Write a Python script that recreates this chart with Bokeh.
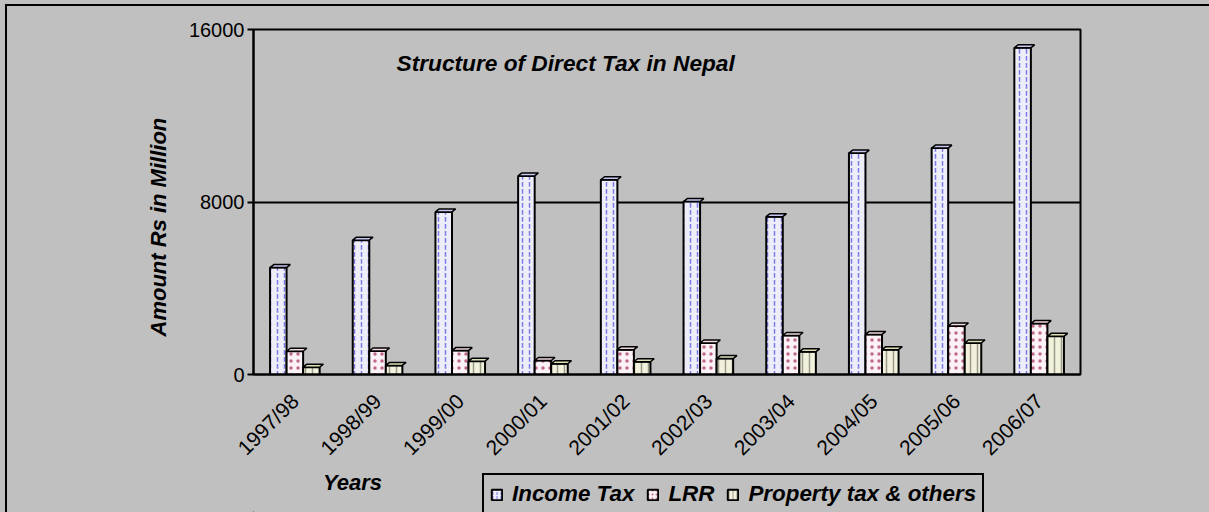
import math
from bokeh.plotting import figure
from bokeh.layouts import column
from bokeh.models import (ColumnDataSource, FactorRange, Range1d, FixedTicker, Legend, LegendItem,
                          Label, Title, InlineStyleSheet)
from bokeh.transform import dodge
from bokeh.embed import file_html
from bokeh.resources import INLINE

years = ["1997/98", "1998/99", "1999/00", "2000/01", "2001/02",
         "2002/03", "2003/04", "2004/05", "2005/06", "2006/07"]
income_tax = [4960, 6230, 7540, 9210, 9030, 8020, 7320, 10270, 10500, 15150]
lrr = [1080, 1090, 1110, 650, 1150, 1460, 1810, 1860, 2250, 2360]
property_tax = [340, 420, 620, 500, 590, 740, 1050, 1150, 1460, 1770]
series_names = ["Income Tax", "LRR", "Property tax & others"]
y_ticks = [0, 8000, 16000]

FONT = "Liberation Sans"
BG = "#C0C0C0"
W = 1209
H_MAIN = 470
H_LEG = 42
LEFT, RIGHT = 253, 129

p = figure(x_range=FactorRange(*years), y_range=Range1d(0, 16000),
           width=W, height=H_MAIN, output_backend="svg", toolbar_location=None,
           min_border_left=LEFT, min_border_right=RIGHT, min_border_top=29, min_border_bottom=95)
p.background_fill_color = BG
p.border_fill_color = BG
p.outline_line_color = "black"
p.outline_line_width = 2

p.xgrid.grid_line_color = None
p.ygrid.grid_line_color = "black"
p.ygrid.grid_line_width = 2
p.ygrid.ticker = FixedTicker(ticks=y_ticks)
p.x_range.range_padding = 0

p.yaxis.ticker = FixedTicker(ticks=y_ticks)
p.yaxis.major_tick_out = 6
p.yaxis.major_tick_in = 0
p.yaxis.minor_tick_line_color = None
p.yaxis.axis_line_width = 2
p.yaxis.major_tick_line_width = 2
p.yaxis.major_label_text_font = FONT
p.yaxis.major_label_text_font_size = "20px"
p.yaxis.major_label_text_color = "black"
p.yaxis.major_label_standoff = 3

p.xaxis.major_tick_line_color = None
p.xaxis.axis_line_width = 2
p.xaxis.major_label_orientation = math.pi / 4
p.xaxis.major_label_text_font = FONT
p.xaxis.major_label_text_font_size = "21px"
p.xaxis.major_label_text_color = "black"
p.xaxis.major_label_standoff = 17

src = ColumnDataSource(dict(years=years, income=income_tax, lrr=lrr, prop=property_tax))

bw = 0.2
styles = [
    dict(col="income", off=-0.2, fill="#EEEEFA", hatch=":", hcol="#7A7AE6", cap="#C8C8F0"),
    dict(col="lrr", off=0.0, fill="#FAF2F6", hatch=".", hcol="#C06888", cap="#F0D8E4"),
    dict(col="prop", off=0.2, fill="#F2F2DC", hatch="|", hcol="#9A9A8A", cap="#E0E0B8"),
]
px_per_unit = 345.0 / 16000.0
cap_dy = 3.0 / px_per_unit
cap_dx = 0.045
for s, vals in zip(styles, [income_tax, lrr, property_tax]):
    p.vbar(x=dodge("years", s["off"], range=p.x_range), top=s["col"], width=bw, source=src,
           fill_color=s["fill"], line_color="black", line_width=2,
           hatch_pattern=s["hatch"], hatch_color=s["hcol"], hatch_scale=7, hatch_weight=1.5)
    xs, ys = [], []
    for i, v in enumerate(vals):
        c = i + 0.5 + s["off"]
        xs.append([c - bw / 2, c + bw / 2, c + bw / 2 + cap_dx, c - bw / 2 + cap_dx])
        ys.append([v, v, v + cap_dy, v + cap_dy])
    p.patches(xs=xs, ys=ys, fill_color=s["cap"], line_color="black", line_width=1.5)

title = Label(x=396 - LEFT, y=375 - 63, x_units="screen", y_units="screen",
              text="Structure of Direct Tax in Nepal", text_color="black",
              text_font=FONT, text_font_style="bold italic", text_font_size="22.7px",
              text_baseline="alphabetic", text_align="left")
p.add_layout(title)

ytitle = Title(text="Amount Rs in Million", align="left", offset=38,
               text_font=FONT, text_font_style="bold italic", text_font_size="22px",
               text_color="black", standoff=29)
p.add_layout(ytitle, "left")

# bottom strip: axis title and legend (frame aligned with the main plot)
p2 = figure(width=W, height=H_LEG, x_range=Range1d(0, W - LEFT - RIGHT), y_range=Range1d(0, H_LEG),
            output_backend="svg", toolbar_location=None, x_axis_type=None, y_axis_type=None,
            min_border_left=LEFT, min_border_right=RIGHT, min_border_top=0, min_border_bottom=0)
p2.background_fill_color = BG
p2.border_fill_color = BG
p2.outline_line_color = None
p2.xgrid.grid_line_color = None
p2.ygrid.grid_line_color = None

# zero-height, off-range keys used only for the legend swatches
key_src = ColumnDataSource(dict(x=[-1000], top=[0]))
leg_renderers = []
for s in styles:
    r = p2.vbar(x="x", top="top", width=1, source=key_src,
                fill_color=s["fill"], line_color="black", line_width=2,
                hatch_pattern=s["hatch"], hatch_color=s["hcol"], hatch_scale=4, hatch_weight=1)
    leg_renderers.append(r)

legend = Legend(items=[LegendItem(label=n, renderers=[r]) for n, r in zip(series_names, leg_renderers)],
                orientation="horizontal", location=(482 - LEFT, -3))
legend.label_text_font = FONT
legend.label_text_font_style = "bold italic"
legend.label_text_font_size = "22.4px"
legend.label_text_color = "black"
legend.glyph_width = 13
legend.glyph_height = 13
legend.label_standoff = 9
legend.spacing = 12
legend.padding = 6
legend.margin = 0
legend.border_line_color = "black"
legend.border_line_alpha = 1
legend.border_line_width = 2
legend.background_fill_color = BG
legend.background_fill_alpha = 1
p2.add_layout(legend, "center")

xlab = Label(x=352 - LEFT, y=30, x_units="screen", y_units="screen", text="Years",
             text_color="black",
             text_font=FONT, text_font_style="bold italic", text_font_size="22px",
             text_baseline="alphabetic", text_align="center")
p2.add_layout(xlab)

frame_css = InlineStyleSheet(css="""
:host { position: relative !important; overflow: hidden !important; scrollbar-width: none !important; }
:host::-webkit-scrollbar { display: none; }
:host::after {
  content: "";
  position: absolute;
  box-sizing: border-box;
  left: 5px; top: 4px; width: 1204px; height: 508px;
  border-top: 2px solid black;
  border-left: 2px solid black;
  border-right: 0 none;
  border-bottom: 0 none;
  pointer-events: none;
  z-index: 100;
}
""")

layout = column(p, p2, spacing=0,
                styles={"background-color": BG, "overflow": "hidden", "position": "relative"},
                stylesheets=[frame_css])

open("out.html", "w").write(file_html(layout, INLINE))
